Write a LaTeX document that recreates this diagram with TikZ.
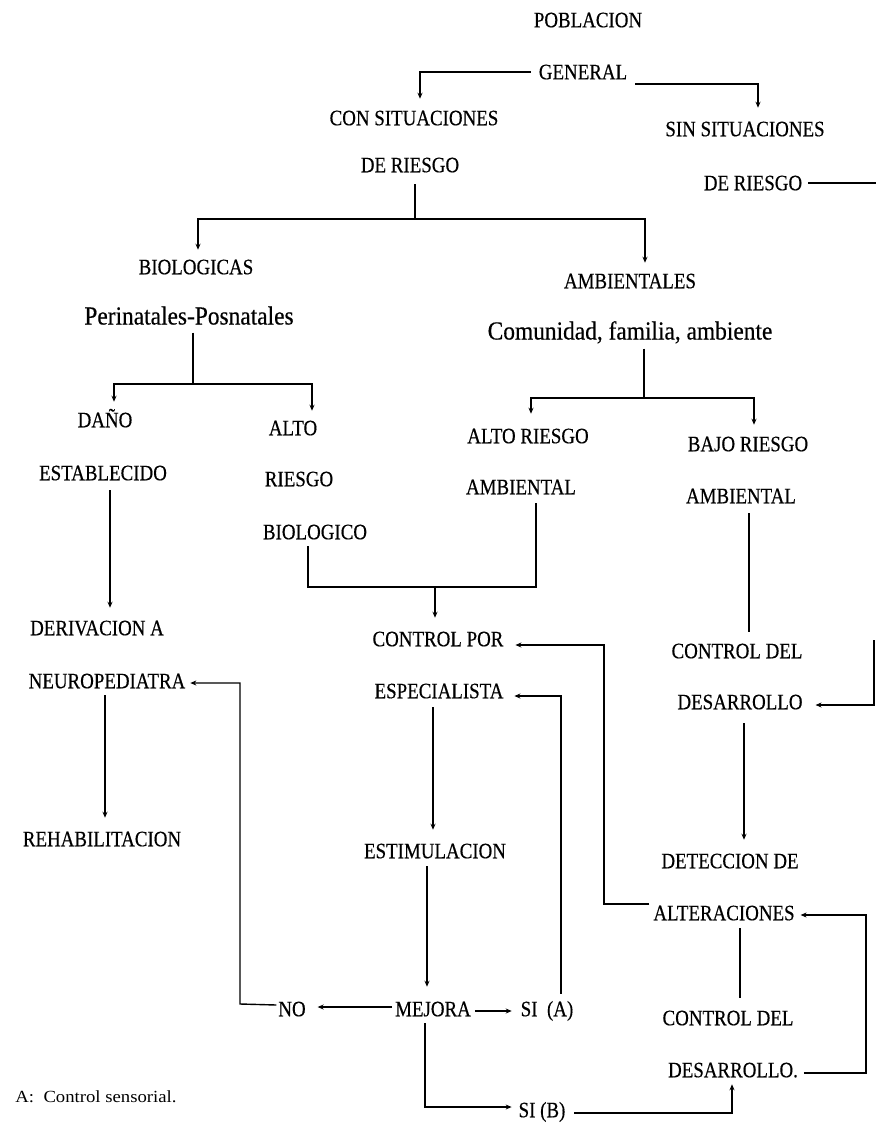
\documentclass[tikz,border=0pt]{standalone}
\usepackage{fontspec}
\setmainfont{Liberation Serif}
\newfontfamily\condfont{Liberation Serif}[FakeStretch=0.86,FakeBold=0.4]
\newfontfamily\bigcondfont{Liberation Serif}[FakeStretch=0.9,FakeBold=0.4]
\newfontfamily\notefont{Liberation Serif}[FakeStretch=1.1]
\usetikzlibrary{arrows.meta}
\begin{document}
\begin{tikzpicture}[x=1pt,y=-1pt,
  lbl/.style={font=\condfont\fontsize{22}{22}\selectfont, inner sep=0pt, outer sep=0pt, text height=14.5pt, text depth=0pt},
  big/.style={lbl, font=\bigcondfont\fontsize{26}{26}\selectfont, text height=17pt},
  note/.style={lbl, font=\notefont\fontsize{17}{17}\selectfont, text height=11pt},
  ln/.style={line width=1.4pt, line join=miter},
  arr/.style={ln, -{Stealth[length=6pt,width=5pt]}}]
\useasboundingbox (0,0) rectangle (876,1129);
% nodes
\node[lbl] (pob) at (588,20) {POBLACION};
\node[lbl] (gen) at (583,72) {GENERAL};
\node[lbl] (con1) at (414,118) {CON SITUACIONES};
\node[lbl] (con2) at (410,165) {DE RIESGO};
\node[lbl] (sin1) at (745,129) {SIN SITUACIONES};
\node[lbl] (sin2) at (753,183) {DE RIESGO};
\node[lbl] (bio) at (196,267) {BIOLOGICAS};
\node[lbl] (amb) at (630,281) {AMBIENTALES};
\node[big] (peri) at (189,316) {Perinatales-Posnatales};
\node[big] (com) at (630,331) {Comunidad, familia, ambiente};
\node[lbl] (dano) at (105,420) {DAÑO};
\node[lbl] (alto1) at (293,428) {ALTO};
\node[lbl] (altor) at (528,436) {ALTO RIESGO};
\node[lbl] (bajo) at (748,444) {BAJO RIESGO};
\node[lbl] (estab) at (103,473) {ESTABLECIDO};
\node[lbl] (riesgo) at (299,479) {RIESGO};
\node[lbl] (amb1) at (521,487) {AMBIENTAL};
\node[lbl] (amb2) at (741,496) {AMBIENTAL};
\node[lbl] (biol) at (315,532) {BIOLOGICO};
\node[lbl] (deriv) at (97,628) {DERIVACION A};
\node[lbl] (neuro) at (107,681) {NEUROPEDIATRA};
\node[lbl] (rehab) at (102,839) {REHABILITACION};
\node[lbl] (cpor) at (438,639) {CONTROL POR};
\node[lbl] (esp) at (439,691) {ESPECIALISTA};
\node[lbl] (estim) at (435,851) {ESTIMULACION};
\node[lbl] (cdel1) at (737,651) {CONTROL DEL};
\node[lbl] (desa1) at (740,702) {DESARROLLO};
\node[lbl] (detec) at (730,861) {DETECCION DE};
\node[lbl] (alter) at (724,913) {ALTERACIONES};
\node[lbl] (cdel2) at (728,1018) {CONTROL DEL};
\node[lbl] (desa2) at (733,1070) {DESARROLLO.};
\node[lbl] (no) at (292,1009) {NO};
\node[lbl] (mejora) at (433,1009) {MEJORA};
\node[lbl] (sia) at (547,1009) {SI\ \ (A)};
\node[lbl] (sib) at (542,1110) {SI (B)};
\node[note] (nt) at (96,1097) {A:\ \ Control sensorial.};
% junction coordinates
\coordinate (j1) at (415,219);
\coordinate (j2) at (193,384);
\coordinate (j3) at (644,398);
\coordinate (j4) at (435,587);
\coordinate (c9) at (240,1004);
\coordinate (c17) at (866,1073);
\coordinate (c18) at (604,904);
\coordinate (edgeA) at (876,183);
\coordinate (edgeB) at (874,640);
% connectors
\draw[arr] ([xshift=-8pt]gen.west) -| ([xshift=6pt,yshift=12pt]con1.north);
\draw[arr] ([xshift=8pt,yshift=-12pt]gen.east) -| ([xshift=13pt,yshift=14pt]sin1.north);
\draw[ln] ([xshift=5pt,yshift=-12pt]con2.south) -- (j1);
\draw[arr] (j1) -| ([xshift=2pt,yshift=10pt]bio.north);
\draw[arr] (j1) -| ([xshift=15pt,yshift=11pt]amb.north);
\draw[ln] ([xshift=4pt,yshift=-8pt]peri.south) -- (j2);
\draw[arr] (j2) -| ([xshift=9pt,yshift=11pt]dano.north);
\draw[arr] (j2) -| ([xshift=19pt,yshift=10pt]alto1.north);
\draw[ln] ([xshift=14pt,yshift=-9pt]com.south) -- (j3);
\draw[arr] (j3) -| ([xshift=3pt,yshift=15pt]altor.north);
\draw[arr] (j3) -| ([xshift=6pt,yshift=12pt]bajo.north);
\draw[arr] ([xshift=7pt,yshift=-10pt]estab.south) -- ([xshift=13pt,yshift=13pt]deriv.north);
\draw[ln] ([xshift=-7pt,yshift=-7pt]biol.south) |- (j4) -| ([xshift=15pt,yshift=-9pt]amb1.south);
\draw[arr] (j4) -- ([xshift=-3pt,yshift=14pt]cpor.north);
\draw[arr] ([xshift=-2pt,yshift=-7pt]neuro.south) -- ([xshift=3pt,yshift=14pt]rehab.north);
\draw[arr] ([xshift=-2pt,yshift=4pt]no.west) -- (c9) |- ([xshift=5pt,yshift=-2pt]neuro.east);
\draw[arr] ([xshift=-3pt,yshift=2pt]mejora.west) -- ([xshift=12pt,yshift=2pt]no.east);
\draw[arr] ([xshift=4pt,yshift=-2pt]mejora.east) -- ([xshift=-9pt,yshift=-2pt]sia.west);
\draw[arr] ([xshift=14pt,yshift=8pt]sia.north) |- ([xshift=11pt,yshift=-5pt]esp.east);
\draw[arr] ([xshift=-6pt,yshift=-9pt]esp.south) -- ([xshift=-2pt,yshift=14pt]estim.north);
\draw[arr] ([xshift=-8pt,yshift=-8pt]estim.south) -- ([xshift=-6pt,yshift=15pt]mejora.north);
\draw[arr] ([xshift=-8pt,yshift=-7pt]mejora.south) |- ([xshift=-7pt,yshift=3pt]sib.west);
\draw[arr] ([xshift=9pt,yshift=-3pt]sib.east) -| ([xshift=-1pt,yshift=-7pt]desa2.south);
\draw[arr] ([xshift=6pt,yshift=-3pt]desa2.east) -- (c17) |- ([xshift=6pt,yshift=-2pt]alter.east);
\draw[arr] ([xshift=-4pt,yshift=9pt]alter.west) -- (c18) |- ([xshift=12pt,yshift=-6pt]cpor.east);
\draw[ln] ([xshift=16pt,yshift=-8pt]alter.south) -- ([xshift=12pt,yshift=13pt]cdel2.north);
\draw[ln] ([xshift=8pt,yshift=-10pt]amb2.south) -- ([xshift=12pt,yshift=12pt]cdel1.north);
\draw[arr] ([xshift=4pt,yshift=-14pt]desa1.south) -- ([xshift=14pt,yshift=14pt]detec.north);
\draw[ln] ([xshift=6pt]sin2.east) -- (edgeA);
\draw[arr] (edgeB) |- ([xshift=13pt,yshift=-3pt]desa1.east);
\end{tikzpicture}
\end{document}
